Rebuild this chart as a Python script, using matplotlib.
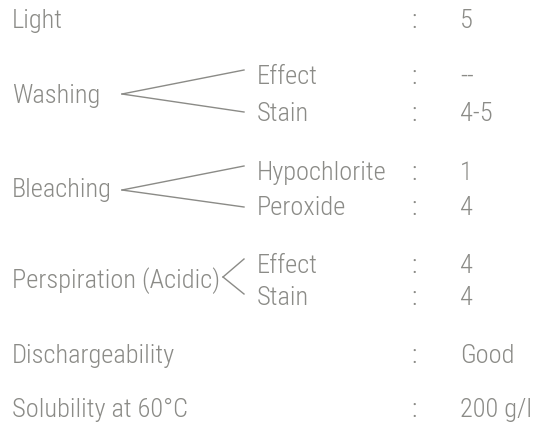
import matplotlib
matplotlib.use("Agg")
from matplotlib import pyplot as plt
from matplotlib import font_manager

# fastness properties as printed on the card
groups = ["Light", "Washing", "Bleaching", "Perspiration (Acidic)",
          "Dischargeability", "Solubility at 60\u00b0C"]
sub_labels = [[], ["Effect", "Stain"], ["Hypochlorite", "Peroxide"],
              ["Effect", "Stain"], [], []]
values = [["5"], ["--", "4-5"], ["1", "4"], ["4", "4"], ["Good"], ["200 g/l"]]

# baselines (pixels from top) of each row
group_y = [28, 103, 197, 288, 363, 417]
sub_y = [[], [84, 121], [180, 215], [273, 305], [], []]
# bracket apex and end points of the branch lines
apex = [None, (122, 94), (122, 190), (223, 277)]
ends = [[], [70, 112], [166, 207], [259, 294]]

names = {f.name for f in font_manager.fontManager.ttflist}
family = "Roboto"
for cand in ["Roboto Condensed", "Liberation Sans Narrow", "PT Sans Narrow",
             "Archivo Narrow", "Open Sans Condensed"]:
    if cand in names:
        family = cand
        break

color = "#8b8b87"
fs = 19
style = dict(fontsize=fs, color=color, family=family, weight="light",
             va="baseline", ha="left")

fig = plt.figure(figsize=(5.35, 4.29), dpi=100)
ax = fig.add_axes([0, 0, 1, 1])
ax.set_xlim(0, 535)
ax.set_ylim(429, 0)
ax.axis("off")

for i, name in enumerate(groups):
    ax.text(12, group_y[i], name, **style)
    if sub_labels[i]:
        for lab, y, val, ye in zip(sub_labels[i], sub_y[i], values[i], ends[i]):
            ax.text(257, y, lab, **style)
            ax.text(411, y, ":", **style)
            ax.text(460, y, val, **style)
            ax.plot([apex[i][0], 244], [apex[i][1], ye], color=color, lw=1.0)
    else:
        ax.text(411, group_y[i], ":", **style)
        ax.text(460, group_y[i], values[i][0], **style)

fig.savefig("out.png", dpi=100, facecolor="white")
